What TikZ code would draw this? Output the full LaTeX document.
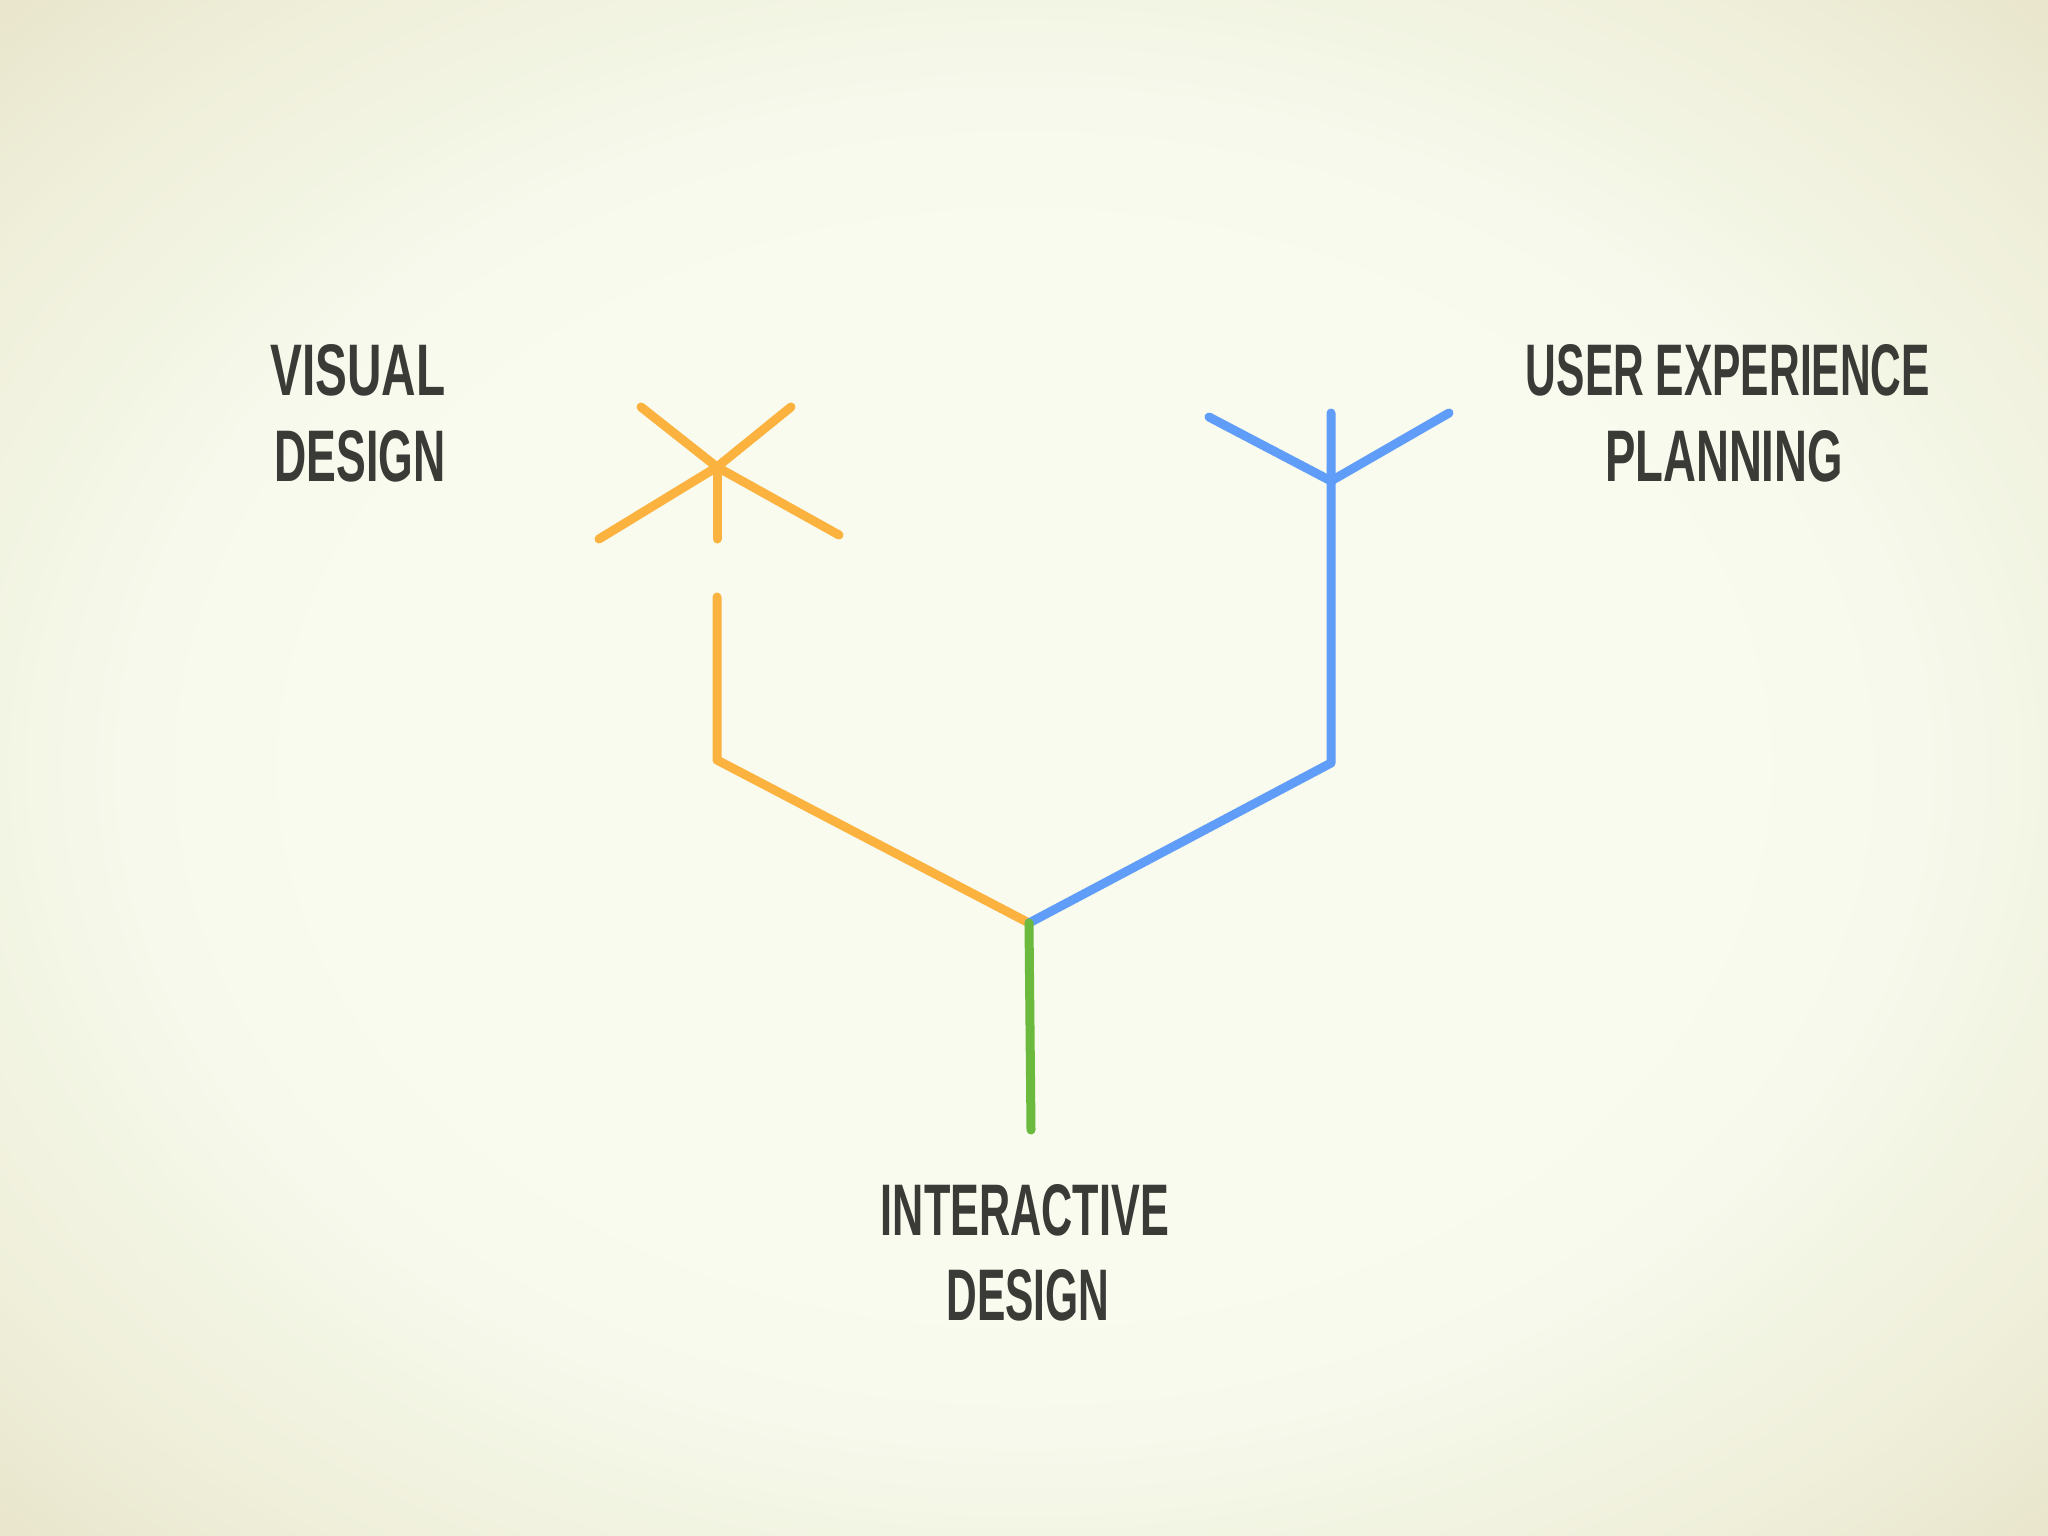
\documentclass[tikz,border=0pt]{standalone}
\usepackage{fontspec}
\setmainfont{Liberation Sans}
\usepackage{graphicx}
\definecolor{bgA}{RGB}{248,251,238}
\definecolor{bgB}{RGB}{246,249,235}
\definecolor{bgE}{RGB}{243,245,228}
\definecolor{bgC}{RGB}{239,239,218}
\definecolor{bgD}{RGB}{233,229,204}
\definecolor{orangeL}{RGB}{251,178,62}
\definecolor{blueL}{RGB}{96,157,248}
\definecolor{greenL}{RGB}{107,186,61}
\definecolor{textC}{RGB}{58,58,54}
\pgfdeclareradialshading{vign}{\pgfpoint{0bp}{0bp}}{color(0bp)=(bgA); color(17bp)=(bgA); color(22bp)=(bgB); color(25bp)=(bgE); color(30bp)=(bgC); color(35.5bp)=(bgD); color(50bp)=(bgD)}
\tikzset{
  branch/.style={line width=9pt, line cap=round, line join=round},
  ob/.style={branch, draw=orangeL},
  bb/.style={branch, draw=blueL},
  gb/.style={branch, draw=greenL},
  lbl/.style={inner sep=0pt, anchor=base, text=textC, font=\bfseries}
}
\newcommand\fitlbl[2]{\resizebox{#1pt}{51pt}{#2}}
\begin{document}
\begin{tikzpicture}[x=1pt,y=-1pt]
\useasboundingbox (0,0) rectangle (2048,1536);
\shade[shading=vign] (0,0) rectangle (2048,1536);
% points
\coordinate (os) at (717,467);
\coordinate (oul) at (641,407);
\coordinate (our) at (791,407);
\coordinate (oll) at (599,539);
\coordinate (olr) at (839,535);
\coordinate (ostub) at (717,539);
\coordinate (otop) at (717,597);
\coordinate (ocorner) at (717,760);
\coordinate (j) at (1029,923);
\coordinate (bcorner) at (1331,763);
\coordinate (bfork) at (1331,481);
\coordinate (btop) at (1331,413);
\coordinate (bl) at (1209,417);
\coordinate (br) at (1449,413);
\coordinate (gend) at (1031,1130);
% orange branch
\draw[ob] (os) -- (oul);
\draw[ob] (os) -- (our);
\draw[ob] (os) -- (oll);
\draw[ob] (os) -- (olr);
\draw[ob] (os) -- (ostub);
\draw[ob] (otop) -- (ocorner) -- (j);
% blue branch
\draw[bb] (j) -- (bcorner) -- (bfork) -- (btop);
\draw[bb] (bl) -- (bfork) -- (br);
% green trunk
\draw[gb] (j) -- (gend);
% labels
\node[lbl] (vis1) at (358,395) {\fitlbl{175}{VISUAL}};
\node[lbl] (vis2) at (360,481) {\fitlbl{171}{DESIGN}};
\node[lbl] (ux1) at (1728,395) {\fitlbl{404}{USER EXPERIENCE}};
\node[lbl] (ux2) at (1724,481) {\fitlbl{238}{PLANNING}};
\node[lbl] (ix1) at (1025,1235) {\fitlbl{288}{INTERACTIVE}};
\node[lbl] (ix2) at (1028,1320) {\fitlbl{163}{DESIGN}};
\end{tikzpicture}
\end{document}
